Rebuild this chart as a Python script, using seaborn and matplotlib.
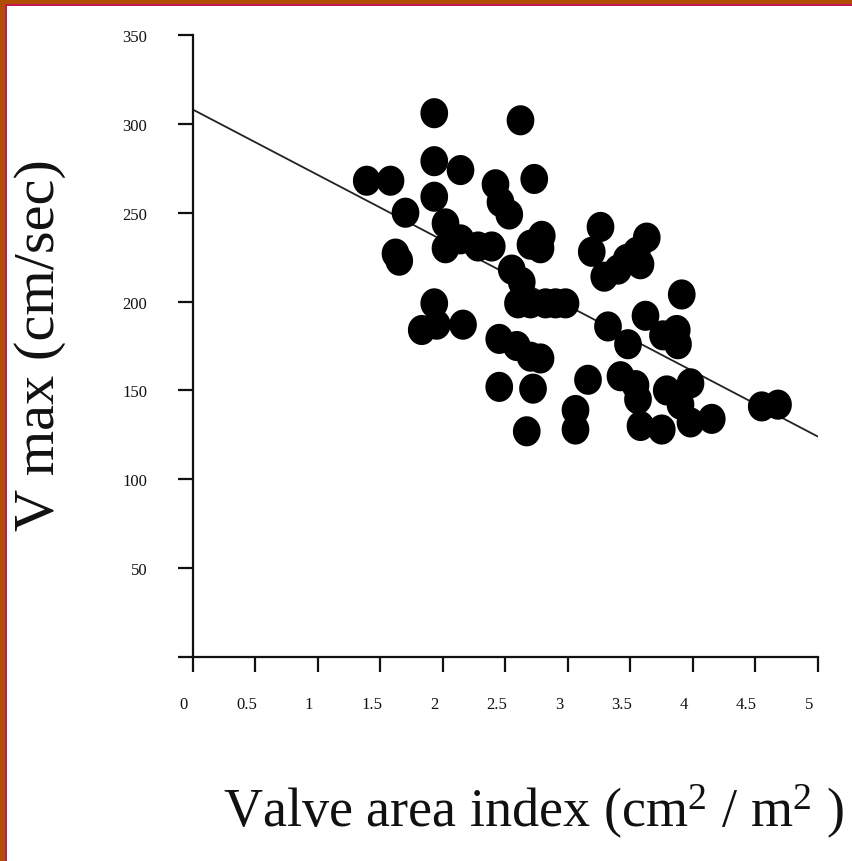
import matplotlib
matplotlib.use("Agg")
import matplotlib.pyplot as plt
import matplotlib.transforms as mtransforms
from matplotlib.patches import Rectangle
from matplotlib.path import Path
import numpy as np
import pandas as pd
import seaborn as sns

# Valve area index (cm^2/m^2) and peak velocity (cm/sec) per patient
valve_area_index = [
    1.39, 1.58, 1.70, 1.62, 1.65, 1.93, 1.93, 1.93, 2.14, 2.02,
    2.02, 2.14, 2.28, 2.39, 1.93, 1.95, 1.83, 2.16, 2.42, 2.46,
    2.53, 2.62, 2.73, 2.79, 2.78, 2.70, 2.55, 2.63, 2.60, 2.70,
    2.82, 2.90, 2.98, 2.45, 2.59, 2.70, 2.78, 2.45, 2.72, 2.67,
    3.06, 3.06, 3.16, 3.26, 3.19, 3.29, 3.40, 3.47, 3.55, 3.63,
    3.58, 3.32, 3.48, 3.42, 3.54, 3.56, 3.58, 3.62, 3.91, 3.76,
    3.87, 3.88, 3.79, 3.75, 3.90, 3.98, 3.98, 4.15, 4.55, 4.68,
]
vmax = [
    268, 268, 250, 227, 223, 306, 279, 259, 274, 244,
    230, 235, 231, 231, 199, 187, 184, 187, 266, 256,
    249, 302, 269, 237, 230, 232, 218, 211, 199, 199,
    199, 199, 199, 179, 175, 169, 168, 152, 151, 127,
    139, 128, 156, 242, 228, 214, 218, 224, 228, 236,
    221, 186, 176, 158, 153, 145, 130, 192, 204, 181,
    184, 176, 150, 128, 142, 154, 132, 134, 141, 142,
]

# Least-squares line shown on the plot (end points)
fit_x = [0.0, 5.0]
fit_y = [308.0, 124.0]

x_ticks = [0, 0.5, 1, 1.5, 2, 2.5, 3, 3.5, 4, 4.5, 5]
x_tick_labels = ["0", "0.5", "1", "1.5", "2", "2.5", "3", "3.5", "4", "4.5", "5"]
y_ticks = [50, 100, 150, 200, 250, 300, 350]

points = pd.DataFrame({"vai": valve_area_index, "vmax": vmax})
fit = pd.DataFrame({"vai": fit_x, "vmax": fit_y})

sns.set_theme(style="ticks")
serif = ["Liberation Serif", "DejaVu Serif"]
plt.rcParams["font.family"] = serif
plt.rcParams["mathtext.fontset"] = "custom"
plt.rcParams["mathtext.rm"] = "Liberation Serif"
plt.rcParams["mathtext.it"] = "Liberation Serif:italic"

# slightly tall oval dot
theta = np.linspace(0, 2 * np.pi, 60)
oval = Path(np.column_stack([0.46 * np.cos(theta), 0.5 * np.sin(theta)]), closed=True)

W, H = 853, 862
fig = plt.figure(figsize=(W / 100, H / 100), dpi=100)
fig.patch.set_facecolor("white")

x0, x1 = 193, 818
y0, y1 = 658, 36
ax = fig.add_axes([x0 / W, 1 - y0 / H, (x1 - x0) / W, (y0 - y1) / H])
ax.set_facecolor("white")

sns.lineplot(data=fit, x="vai", y="vmax", ax=ax, color="#222222", linewidth=1.3,
             zorder=2)
sns.scatterplot(data=points, x="vai", y="vmax", ax=ax, color="black", s=470,
                marker=oval, edgecolor="none", linewidth=0, zorder=3,
                clip_on=False)

ax.set_xlim(0, 5)
ax.set_ylim(0, 350)
ax.set_xticks(x_ticks)
ax.set_xticklabels(x_tick_labels)
ax.set_yticks([0] + y_ticks)
ax.set_yticklabels([""] + [str(v) for v in y_ticks])
ax.set_xlabel("")
ax.set_ylabel("")

for side in ("top", "right"):
    ax.spines[side].set_visible(False)
for side in ("left", "bottom"):
    ax.spines[side].set_linewidth(1.6)
    ax.spines[side].set_color("#111111")

ax.tick_params(axis="x", direction="out", length=11, width=1.6, pad=17,
               labelsize=12, colors="#111111")
ax.tick_params(axis="y", direction="out", length=11, width=1.6, pad=22,
               labelsize=12, colors="#111111")

# x tick labels sit slightly left of their ticks
shift = mtransforms.ScaledTranslation(-9 / 100, 0, fig.dpi_scale_trans)
for lab in ax.get_xticklabels():
    lab.set_transform(lab.get_transform() + shift)

fig.text(40 / W, 1 - 345 / H, "V max (cm/sec)", rotation=90, ha="center",
         va="center", fontsize=42, color="#111111")
fig.text(533 / W, 1 - 812 / H, "Valve area index (cm$^2$ / m$^2$ )",
         ha="center", va="center", fontsize=39, color="#111111")

# slide frame: orange band with a crimson rule along the left and top edges
orange = "#B04F04"
crimson = "#C2184E"
fig.patches.append(Rectangle((0, 0), 5 / W, 1, transform=fig.transFigure,
                             facecolor=orange, edgecolor="none", zorder=10))
fig.patches.append(Rectangle((0, 1 - 5 / H), 1, 5 / H, transform=fig.transFigure,
                             facecolor=orange, edgecolor="none", zorder=10))
fig.patches.append(Rectangle((5 / W, 0), 2 / W, 1 - 5 / H, transform=fig.transFigure,
                             facecolor=crimson, edgecolor="none", zorder=10))
fig.patches.append(Rectangle((5 / W, 1 - 7 / H), 1, 2 / H, transform=fig.transFigure,
                             facecolor=crimson, edgecolor="none", zorder=10))

fig.savefig("out.png", dpi=100, facecolor="white")
